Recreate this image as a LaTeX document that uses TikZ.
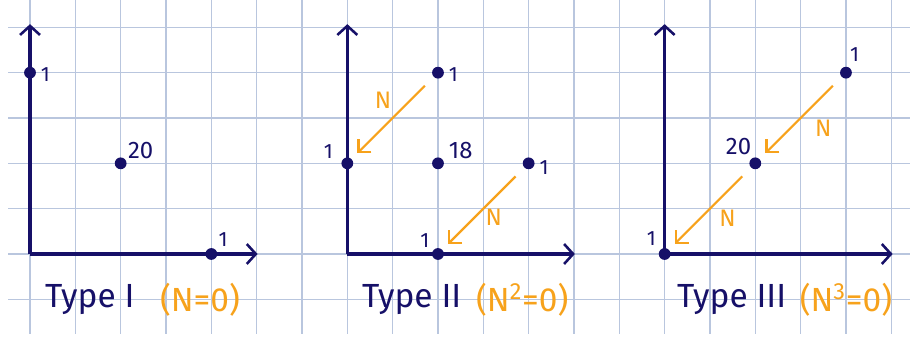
\documentclass[tikz,border=0pt]{standalone}
\usepackage{fontspec}
\setmainfont{Fira Sans}
\usetikzlibrary{arrows.meta}
\definecolor{navy}{RGB}{22,16,104}
\definecolor{orng}{RGB}{247,162,27}
\definecolor{gridc}{RGB}{185,198,222}
\tikzset{
  axisline/.style={draw=navy, line width=1.9pt, -{Straight Barb[length=2mm,width=4.4mm,line width=1.6pt]}},
  dotnode/.style={circle, fill=navy, inner sep=0pt, minimum size=2.6mm},
  lbl/.style={text=navy, font=\fontsize{13}{15}\selectfont, inner sep=1pt},
  nlbl/.style={text=orng, font=\fontsize{15}{17}\selectfont, inner sep=1pt},
  narrow/.style={draw=orng, line width=1.4pt, shorten <=0.27cm, shorten >=0.18cm, -{Straight Barb[length=2mm,width=4mm,line width=1.3pt]}},
  title/.style={text=navy, font=\fontsize{21}{24}\selectfont},
  otitle/.style={text=orng, font=\fontsize{21}{24}\selectfont},
  gridline/.style={draw=gridc, line width=0.7pt}
}
\begin{document}
\begin{tikzpicture}[x=1cm,y=1cm]
\useasboundingbox (-0.662,-1.831) rectangle (19.413,5.603);
\fill[white] (-0.662,-1.831) rectangle (19.413,5.603);
% grid
\foreach \y in {-1,...,5} \draw[gridline] (-0.485,\y) -- (19.413,\y);
\foreach \x in {0,...,19} \draw[gridline] (\x,-1.765) -- (\x,5.603);

% ---------- Panel I ----------
\coordinate (o1) at (0,0);
\coordinate (y1) at (0,5.07);
\coordinate (x1) at (5.02,0);
\draw[axisline] (o1) -- (y1);
\draw[axisline] (o1) -- (x1);
\node[dotnode] (a1) at (0,4) {};
\node[dotnode] (b1) at (2,2) {};
\node[dotnode] (c1) at (4,0) {};
\node[lbl, anchor=west] (la1) at (0.2,3.95) {1};
\node[lbl, anchor=south west] (lb1) at (2.12,2.05) {\fontsize{15}{17}\selectfont 20};
\node[lbl, anchor=south west] (lc1) at (4.12,0.12) {1};
\node[title] (t1) at (1.32,-1.0) {Type I};
\node[otitle] (n1) at (3.75,-1.0) {(N=0)};

% ---------- Panel II ----------
\coordinate (o2) at (7,0);
\coordinate (y2) at (7,5.07);
\coordinate (x2) at (12.02,0);
\draw[axisline] (o2) -- (y2);
\draw[axisline] (o2) -- (x2);
\node[dotnode] (a2) at (9,4) {};
\node[dotnode] (b2) at (7,2) {};
\node[dotnode] (c2) at (9,2) {};
\node[dotnode] (d2) at (11,2) {};
\node[dotnode] (e2) at (9,0) {};
\node[lbl, anchor=west] (la2) at (9.2,3.95) {1};
\node[lbl, anchor=east] (lb2) at (6.72,2.25) {1};
\node[lbl, anchor=south west] (lc2) at (9.2,2.05) {\fontsize{15}{17}\selectfont 18};
\node[lbl, anchor=west] (ld2) at (11.2,1.9) {1};
\node[lbl, anchor=south east] (le2) at (8.85,0.1) {1};
\draw[narrow] (a2) -- (b2);
\draw[narrow] (d2) -- (e2);
\node[nlbl] (na2) at (7.79,3.4) {N};
\node[nlbl] (nd2) at (10.23,0.82) {N};
\node[title] (t2) at (8.42,-1.0) {Type II};
\node[otitle] (n2) at (10.86,-1.0) {(N\textsuperscript{2}=0)};

% ---------- Panel III ----------
\coordinate (o3) at (14,0);
\coordinate (y3) at (14,5.07);
\coordinate (x3) at (19.03,0);
\draw[axisline] (o3) -- (y3);
\draw[axisline] (o3) -- (x3);
\node[dotnode] (a3) at (18,4) {};
\node[dotnode] (b3) at (16,2) {};
\node[dotnode] (c3) at (14,0) {};
\node[lbl, anchor=south west] (la3) at (18.05,4.2) {1};
\node[lbl, anchor=south east] (lb3) at (15.95,2.15) {\fontsize{15}{17}\selectfont 20};
\node[lbl, anchor=south east] (lc3) at (13.85,0.15) {1};
\draw[narrow] (a3) -- (b3);
\draw[narrow] (b3) -- (c3);
\node[nlbl] (na3) at (17.5,2.77) {N};
\node[nlbl] (nb3) at (15.39,0.79) {N};
\node[title] (t3) at (15.48,-1.0) {Type III};
\node[otitle] (n3) at (18.0,-1.0) {(N\textsuperscript{3}=0)};
\end{tikzpicture}
\end{document}
